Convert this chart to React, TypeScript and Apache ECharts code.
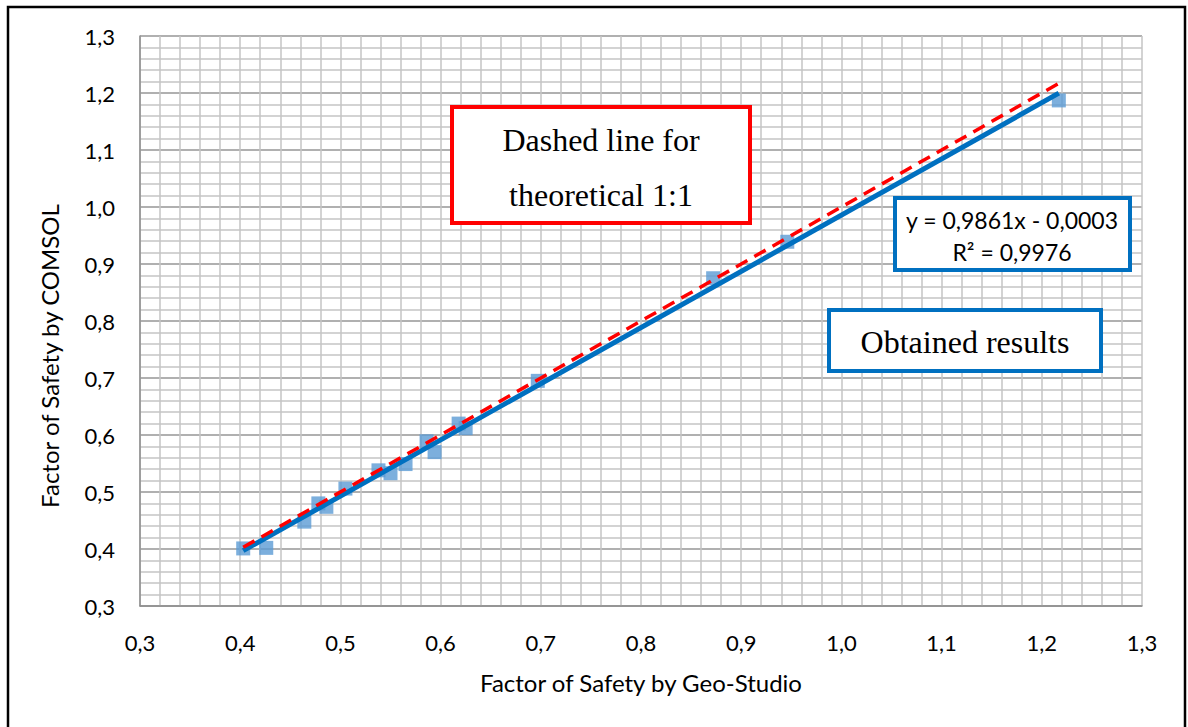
import React, { useEffect, useRef } from "react";
import * as echarts from "echarts";

// Factor of safety pairs: Geo-Studio (x) vs COMSOL (y)
const geoStudio = [0.403, 0.426, 0.464, 0.478, 0.486, 0.505, 0.538, 0.55, 0.565, 0.586, 0.594, 0.618, 0.625, 0.697, 0.872, 0.946, 1.217];
const comsol = [0.401, 0.402, 0.448, 0.48, 0.474, 0.506, 0.538, 0.533, 0.549, 0.589, 0.57, 0.62, 0.612, 0.695, 0.875, 0.939, 1.187];

// Linear trend line as reported in the equation label
const trendSlope = 0.9861;
const trendIntercept = -0.0003;
const trendR2 = 0.9976;

const axisMin = 0.3;
const axisMax = 1.3;
const axisStep = 0.1;

const xTitle = "Factor of Safety by Geo-Studio";
const yTitle = "Factor of Safety by COMSOL";

const fmt = (v: number, d: number) => v.toFixed(d).replace(".", ",");

export default function App() {
  const ref = useRef<HTMLDivElement>(null);

  useEffect(() => {
    if (!ref.current) return;
    const chart = echarts.init(ref.current, null, { renderer: "svg" });

    const points = geoStudio.map((x, i) => [x, comsol[i]]);
    const xLo = Math.min(...geoStudio);
    const xHi = Math.max(...geoStudio);
    const trend = [xLo, xHi].map((x) => [x, trendSlope * x + trendIntercept]);
    const oneToOne = [xLo, xHi].map((x) => [x, x]);

    const labelFont = "Lato, 'DejaVu Sans', sans-serif";
    const serif = "'Liberation Serif', 'DejaVu Serif', serif";

    const eqText =
      "y = " + fmt(trendSlope, 4) + "x - " + fmt(Math.abs(trendIntercept), 4) + "\nR² = " + fmt(trendR2, 4);

    // Annotation boxes sit above the plot, so every piece carries a high z
    const boxText = (x: number, y: number, text: string, font: string, size: number, extra: any = {}) => ({
      type: "text",
      x,
      y,
      z: 101,
      zlevel: 1,
      style: {
        text,
        fontFamily: font,
        fontSize: size,
        fill: "#000",
        align: "center",
        verticalAlign: "middle",
        ...extra,
      },
    });

    const boxRect = (x: number, y: number, w: number, h: number, color: string) => ({
      type: "rect",
      z: 100,
      zlevel: 1,
      shape: { x, y, width: w, height: h },
      style: { fill: "#fff", stroke: color, lineWidth: 4 },
    });

    const minorGrid = { color: "#c4c4c4", width: 1.5 };

    chart.setOption({
      animation: false,
      backgroundColor: "#ffffff",
      grid: { left: 140, right: 46, top: 36, bottom: 121 },
      xAxis: {
        type: "value",
        min: axisMin,
        max: axisMax,
        interval: axisStep,
        name: xTitle,
        nameLocation: "middle",
        nameGap: 64,
        nameTextStyle: { fontFamily: labelFont, fontSize: 24, color: "#000" },
        axisLine: { show: true, lineStyle: { color: "#8c8c8c", width: 1.5 } },
        axisTick: { show: false },
        axisLabel: {
          margin: 25,
          fontFamily: labelFont,
          fontSize: 22,
          color: "#000",
          formatter: (v: number) => fmt(v, 1),
        },
        splitLine: { show: true, lineStyle: minorGrid },
        minorTick: { show: false, splitNumber: 5 },
        minorSplitLine: { show: true, lineStyle: minorGrid },
      },
      yAxis: {
        type: "value",
        min: axisMin,
        max: axisMax,
        interval: axisStep,
        axisLine: { show: true, lineStyle: { color: "#8c8c8c", width: 1.5 } },
        axisTick: { show: false },
        axisLabel: {
          margin: 25,
          fontFamily: labelFont,
          fontSize: 22,
          color: "#000",
          formatter: (v: number) => fmt(v, 1),
        },
        splitLine: { show: true, lineStyle: { color: "#969696", width: 1.5 } },
        minorTick: { show: false, splitNumber: 5 },
        minorSplitLine: { show: true, lineStyle: minorGrid },
      },
      series: [
        {
          type: "scatter",
          data: points,
          symbol: "rect",
          symbolSize: 14,
          itemStyle: { color: "#5b9bd5" },
          z: 2,
        },
        {
          type: "line",
          data: trend,
          symbol: "none",
          lineStyle: { color: "#0070c0", width: 5 },
          z: 3,
        },
        {
          type: "line",
          data: oneToOne,
          symbol: "none",
          lineStyle: { color: "#ff0000", width: 3.5, type: [13, 8] },
          z: 4,
        },
      ],
      graphic: [
        {
          type: "rect",
          z: 100,
          zlevel: 1,
          shape: { x: 8, y: 7, width: 1177, height: 760 },
          style: { fill: "none", stroke: "#000", lineWidth: 2.5 },
        },
        {
          type: "text",
          x: 49,
          y: 356,
          z: 100,
          zlevel: 1,
          rotation: Math.PI / 2,
          style: {
            text: yTitle,
            fontFamily: labelFont,
            fontSize: 24,
            fill: "#000",
            align: "center",
            verticalAlign: "middle",
          },
        },
        boxRect(452, 107, 298, 116, "#ff0000"),
        boxText(601, 140, "Dashed line for", serif, 32),
        boxText(601, 195, "theoretical 1:1", serif, 32),
        boxRect(895, 198, 235, 72, "#0070c0"),
        boxText(1012, 236, eqText, labelFont, 23, { lineHeight: 32 }),
        boxRect(829, 310, 272, 61, "#0070c0"),
        boxText(965, 342, "Obtained results", serif, 32),
      ],
    });

    return () => chart.dispose();
  }, []);

  return (
    <div
      ref={ref}
      style={{ position: "absolute", left: 0, top: 0, width: 1188, height: 727, background: "#fff" }}
    />
  );
}
